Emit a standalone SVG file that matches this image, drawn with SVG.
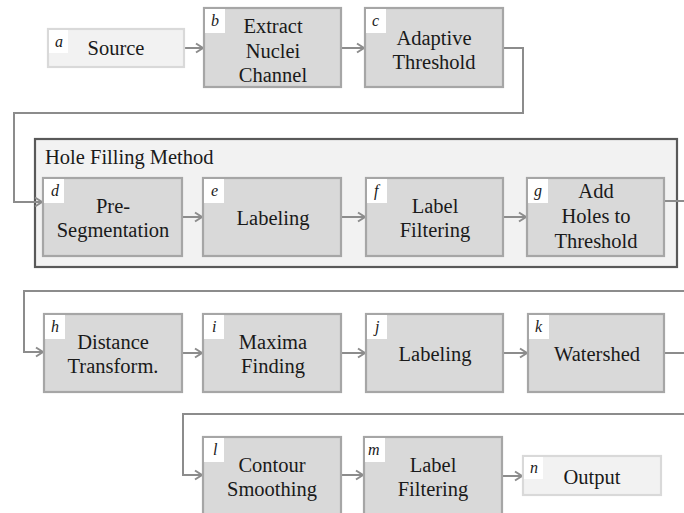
<svg xmlns="http://www.w3.org/2000/svg" width="684" height="513" viewBox="0 0 684 513" font-family="Liberation Serif, Times New Roman, serif">
<style>
.box{fill:#d9d9d9;stroke:#a6a6a6;stroke-width:2.2}
.lbox{fill:#f2f2f2;stroke:#d9d9d9;stroke-width:2.2}
.tag{fill:#ffffff}
.t{font-size:20.5px;fill:#1a1a1a;text-anchor:middle}
.l{font-size:16px;font-style:italic;fill:#1a1a1a}
.c{fill:none;stroke:#8c8c8c;stroke-width:2;marker-end:url(#arr)}
</style>
<defs>
<marker id="arr" markerWidth="12" markerHeight="12" refX="9" refY="6" orient="auto" markerUnits="userSpaceOnUse">
<path d="M2,1.5 L9,6 L2,10.5" fill="none" stroke="#8c8c8c" stroke-width="2"/>
</marker>
</defs>
<rect width="684" height="513" fill="#ffffff"/>
<g id="hole-filling-method">
<rect x="35" y="139" width="642" height="128" fill="#f2f2f2" stroke="#595959" stroke-width="2.2"/>
<text x="45" y="164" font-size="20.5" fill="#1a1a1a">Hole Filling Method</text>
</g>
<g id="connectors">
<path class="c" d="M184,48 H203"/>
<path class="c" d="M341,48 H364"/>
<path class="c" d="M503,48 H523 V113 H14 V202 H42"/>
<path class="c" d="M182,217 H202"/>
<path class="c" d="M341,217 H365"/>
<path class="c" d="M503,217 H526"/>
<path class="c" d="M664,201 H692 V291 H24 V352 H43"/>
<path class="c" d="M182,353 H202"/>
<path class="c" d="M341,353 H365"/>
<path class="c" d="M503,353 H527"/>
<path class="c" d="M664,353 H692 V414 H183 V475 H202"/>
<path class="c" d="M341,475 H363"/>
<path class="c" d="M502,476 H522"/>
</g>
<g id="node-a">
<rect class="lbox" x="48" y="29" width="136" height="38"/>
<rect class="tag" x="49" y="30" width="19" height="23"/>
<text class="l" x="55" y="47">a</text>
<text class="t" x="116" y="55">Source</text>
</g>
<g id="node-b">
<rect class="box" x="204" y="8" width="137" height="79"/>
<rect class="tag" x="205" y="9" width="20" height="24"/>
<text class="l" x="211" y="26">b</text>
<text class="t" x="273" y="33">Extract</text>
<text class="t" x="273" y="58">Nuclei</text>
<text class="t" x="273" y="82">Channel</text>
</g>
<g id="node-c">
<rect class="box" x="365" y="8" width="138" height="79"/>
<rect class="tag" x="366" y="9" width="20" height="24"/>
<text class="l" x="372" y="26">c</text>
<text class="t" x="434" y="45">Adaptive</text>
<text class="t" x="434" y="69">Threshold</text>
</g>
<g id="node-d">
<rect class="box" x="43" y="178" width="139" height="78"/>
<rect class="tag" x="44" y="179" width="20" height="24"/>
<text class="l" x="51" y="196">d</text>
<text class="t" x="113" y="213">Pre-</text>
<text class="t" x="113" y="237">Segmentation</text>
</g>
<g id="node-e">
<rect class="box" x="203" y="178" width="138" height="78"/>
<rect class="tag" x="204" y="179" width="20" height="24"/>
<text class="l" x="211" y="196">e</text>
<text class="t" x="273" y="225">Labeling</text>
</g>
<g id="node-f">
<rect class="box" x="366" y="178" width="137" height="78"/>
<rect class="tag" x="367" y="179" width="20" height="24"/>
<text class="l" x="374" y="196">f</text>
<text class="t" x="435" y="213">Label</text>
<text class="t" x="435" y="237">Filtering</text>
</g>
<g id="node-g">
<rect class="box" x="527" y="178" width="137" height="78"/>
<rect class="tag" x="528" y="179" width="20" height="24"/>
<text class="l" x="534" y="196">g</text>
<text class="t" x="596" y="198">Add</text>
<text class="t" x="596" y="223">Holes to</text>
<text class="t" x="596" y="248">Threshold</text>
</g>
<g id="node-h">
<rect class="box" x="44" y="314" width="138" height="78"/>
<rect class="tag" x="45" y="315" width="20" height="24"/>
<text class="l" x="51" y="332">h</text>
<text class="t" x="113" y="349">Distance</text>
<text class="t" x="113" y="373">Transform.</text>
</g>
<g id="node-i">
<rect class="box" x="203" y="314" width="138" height="78"/>
<rect class="tag" x="204" y="315" width="20" height="24"/>
<text class="l" x="212" y="332">i</text>
<text class="t" x="273" y="349">Maxima</text>
<text class="t" x="273" y="373">Finding</text>
</g>
<g id="node-j">
<rect class="box" x="366" y="314" width="137" height="78"/>
<rect class="tag" x="367" y="315" width="20" height="24"/>
<text class="l" x="375" y="332">j</text>
<text class="t" x="435" y="361">Labeling</text>
</g>
<g id="node-k">
<rect class="box" x="528" y="314" width="136" height="78"/>
<rect class="tag" x="529" y="315" width="20" height="24"/>
<text class="l" x="535" y="332">k</text>
<text class="t" x="597" y="361">Watershed</text>
</g>
<g id="node-l">
<rect class="box" x="203" y="437" width="138" height="80"/>
<rect class="tag" x="204" y="438" width="20" height="24"/>
<text class="l" x="213" y="455">l</text>
<text class="t" x="272" y="472">Contour</text>
<text class="t" x="272" y="496">Smoothing</text>
</g>
<g id="node-m">
<rect class="box" x="364" y="437" width="138" height="80"/>
<rect class="tag" x="365" y="438" width="20" height="24"/>
<text class="l" x="368" y="455">m</text>
<text class="t" x="433" y="472">Label</text>
<text class="t" x="433" y="496">Filtering</text>
</g>
<g id="node-n">
<rect class="lbox" x="523" y="456" width="138" height="39"/>
<rect class="tag" x="524" y="457" width="19" height="22"/>
<text class="l" x="530" y="473">n</text>
<text class="t" x="592" y="484">Output</text>
</g>
</svg>
